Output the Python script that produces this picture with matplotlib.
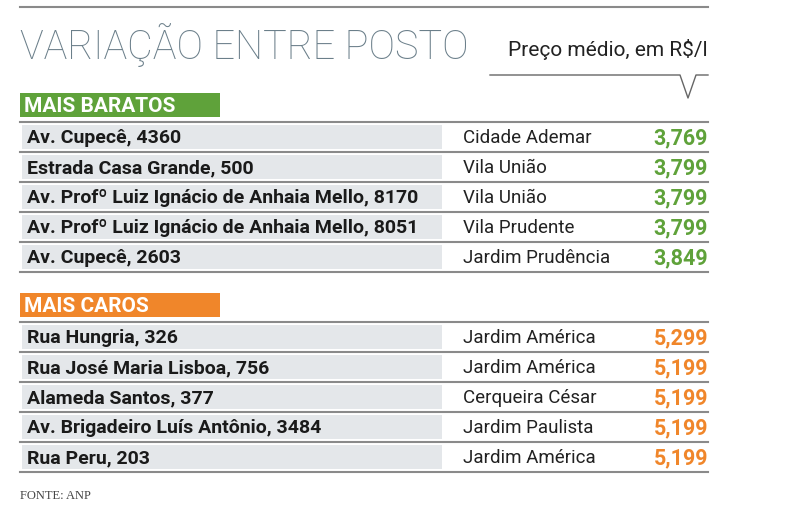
import matplotlib
matplotlib.use("Agg")
import matplotlib.pyplot as plt

plt.rcParams['font.family'] = ['Roboto', 'DejaVu Sans']

cheap_addr = ["Av. Cupecê, 4360", "Estrada Casa Grande, 500",
              "Av. Profº Luiz Ignácio de Anhaia Mello, 8170",
              "Av. Profº Luiz Ignácio de Anhaia Mello, 8051", "Av. Cupecê, 2603"]
cheap_hood = ["Cidade Ademar", "Vila União", "Vila União", "Vila Prudente", "Jardim Prudência"]
cheap_price = [3.769, 3.799, 3.799, 3.799, 3.849]
exp_addr = ["Rua Hungria, 326", "Rua José Maria Lisboa, 756", "Alameda Santos, 377",
            "Av. Brigadeiro Luís Antônio, 3484", "Rua Peru, 203"]
exp_hood = ["Jardim América", "Jardim América", "Cerqueira César", "Jardim Paulista", "Jardim América"]
exp_price = [5.299, 5.199, 5.199, 5.199, 5.199]

GREEN = "#5fa23a"
ORANGE = "#f0862a"
GRAY = "#e4e7ea"
LINE = "#8a8a8a"

fig = plt.figure(figsize=(8, 5.13), dpi=100)
ax = fig.add_axes([0, 0, 1, 1])
ax.set_xlim(0, 800)
ax.set_ylim(513, 0)
ax.axis('off')

ax.plot([20, 708], [7, 7], color=LINE, lw=1.5)
ax.text(20, 45, "VARIAÇÃO ENTRE POSTO", fontsize=28.5, fontweight='light', color="#6b7f8a", va='center', ha='left')
ax.text(708, 50, "Preço médio, em R$/l", fontsize=15, color="#222", va='center', ha='right')
ax.plot([490, 680, 688, 696, 708], [75, 75, 98, 75, 75], color="#666", lw=1)

def group(y0, title, color, addr, hood, price):
    ax.barh([y0], [200], left=[20], height=24, color=color)
    ax.text(24, y0 + 1, title, fontsize=15, fontweight='bold', color='white', va='center', ha='left')
    ys = [y0 + 32 + 30 * i for i in range(len(addr))]
    ax.barh(ys, [420] * len(ys), left=[22] * len(ys), height=24, color=GRAY)
    for i, y in enumerate(ys):
        ax.plot([20, 708], [y - 15, y - 15], color=LINE, lw=1.5)
        ax.text(27, y + 1, addr[i], fontsize=14, fontweight='bold', color='#1a1a1a', va='center')
        ax.text(463, y + 1, hood[i], fontsize=13.5, color='#222', va='center')
        ax.text(708, y + 1, f"{price[i]:.3f}".replace('.', ','), fontsize=15.5,
                fontweight='bold', color=color, va='center', ha='right')
    ax.plot([20, 708], [ys[-1] + 15, ys[-1] + 15], color=LINE, lw=1.5)

group(105, "MAIS BARATOS", GREEN, cheap_addr, cheap_hood, cheap_price)
group(305, "MAIS CAROS", ORANGE, exp_addr, exp_hood, exp_price)

ax.text(20, 496, "FONTE: ANP", fontsize=9, color='#444', va='center', family=['Liberation Serif', 'DejaVu Serif'])

fig.savefig("out.png", dpi=100)
